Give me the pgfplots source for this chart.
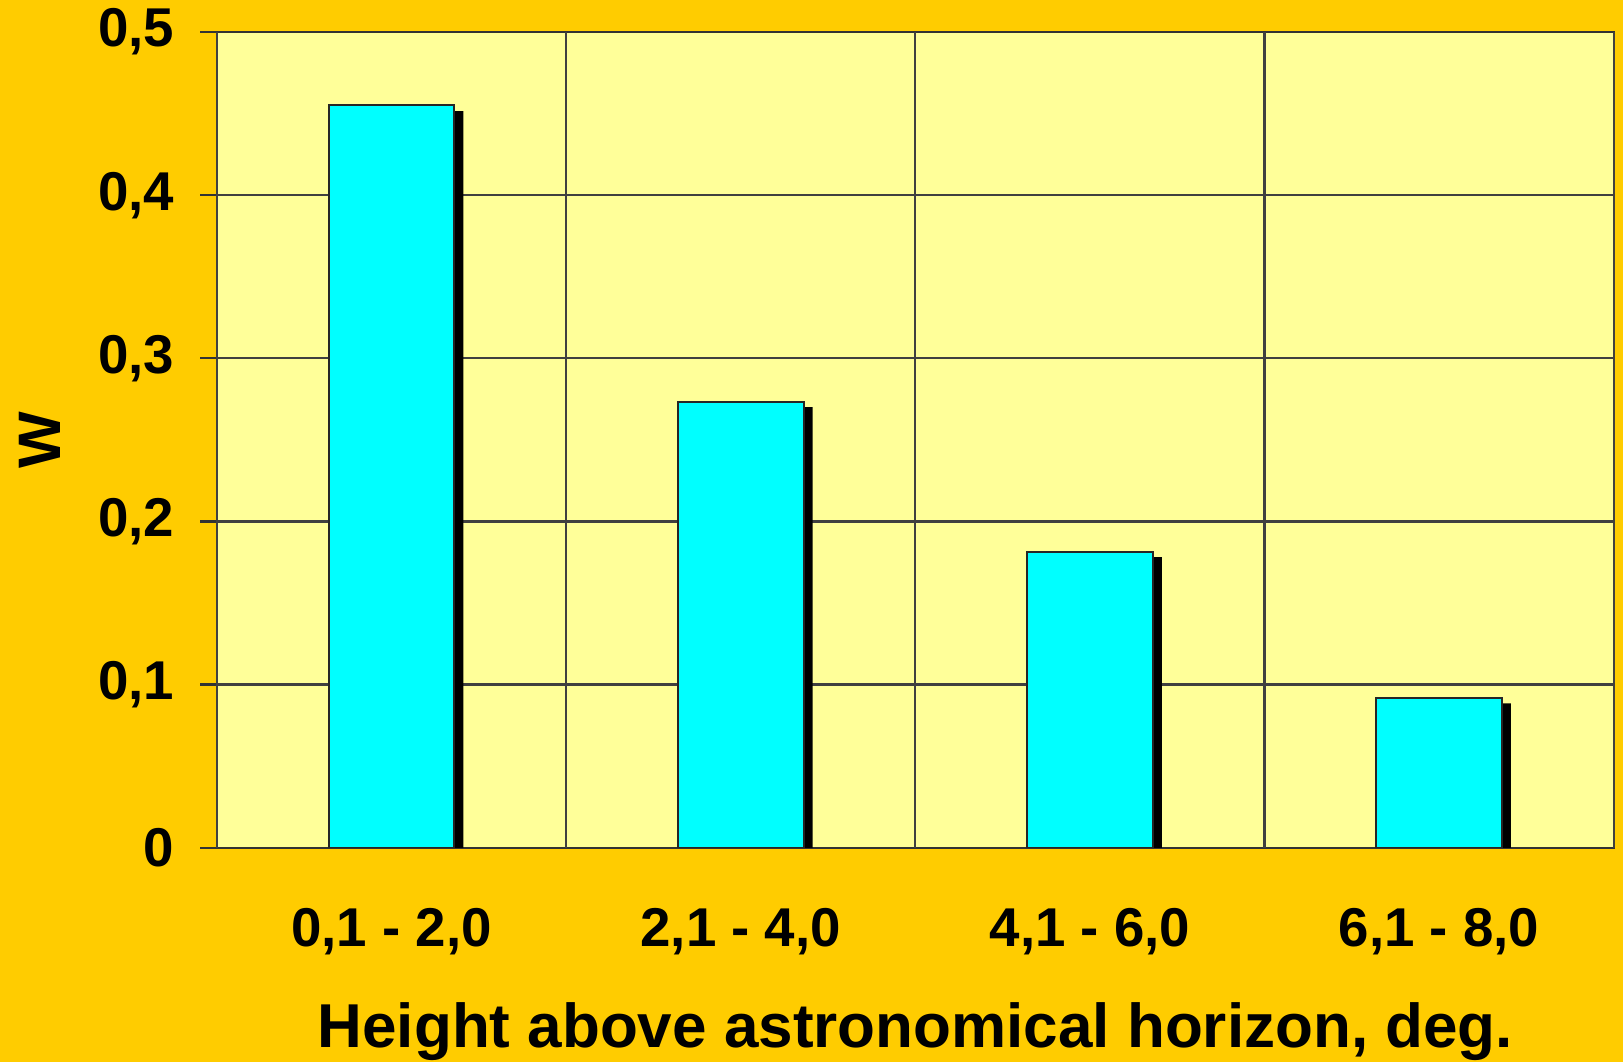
\documentclass[border=0pt]{standalone}
\usepackage{fontspec}
\setmainfont{Liberation Sans}
\usepackage{pgfplots}
\pgfplotsset{compat=1.18}
\definecolor{bgorange}{HTML}{FFCC00}
\definecolor{plotbg}{HTML}{FFFF99}
\definecolor{barcyan}{HTML}{00FFFF}
\begin{document}
\begin{tikzpicture}
\fill[bgorange] (-65.1pt,-64.2pt) rectangle (421.9pt,254.4pt);
\begin{axis}[
  at={(0,0)}, anchor=south west,
  scale only axis, width=419.1pt, height=244.8pt,
  xmin=0, xmax=4, ymin=0, ymax=0.5,
  axis background/.style={fill=plotbg},
  axis line style={black!80, line width=0.7pt},
  ytick={0,0.1,0.2,0.3,0.4,0.5},
  yticklabels={0,{0,1},{0,2},{0,3},{0,4},{0,5}},
  ymajorgrids,
  grid style={black!75, line width=0.7pt},
  ytick pos=left, xtick pos=bottom,
  tick align=outside,
  major tick length=5pt,
  tick style={black!80, line width=0.7pt},
  xtick={0.5,1.5,2.5,3.5},
  xticklabels={{0,1 - 2,0},{2,1 - 4,0},{4,1 - 6,0},{6,1 - 8,0}},
  x tick style={draw=none},
  extra x ticks={0,1,2,3,4},
  extra x tick labels={},
  extra x tick style={grid=major, tick style={draw=black!80, line width=0.7pt}, major tick length=4.3pt},
  tick label style={font=\bfseries\fontsize{16.4}{18}\selectfont},
  yticklabel style={anchor=east, xshift=-4.3pt},
  xticklabel style={anchor=base, yshift=-24.5pt},
  xlabel={Height above astronomical horizon, deg.},
  xlabel style={at={(axis description cs:0.5,0)}, anchor=base, yshift=-60pt, font=\bfseries\fontsize{18.6}{20}\selectfont},
  ylabel={W},
  ylabel style={at={(axis description cs:-0.1265,0.5)}, anchor=center, rotate=0, font=\bfseries\fontsize{18}{20}\selectfont},
]
\addplot[ybar, bar width=0.36, fill=black, draw=none, bar shift=2.7pt, yshift=-1.7pt]
  coordinates {(0.5,0.455) (1.5,0.2735) (2.5,0.1816) (3.5,0.092)};
\addplot[ybar, bar width=0.36, fill=barcyan, draw=black!85, line width=0.6pt, bar shift=0pt]
  coordinates {(0.5,0.455) (1.5,0.2735) (2.5,0.1816) (3.5,0.092)};
\end{axis}
\pgfresetboundingbox
\path[use as bounding box] (-65.1pt,-64.2pt) rectangle (421.9pt,254.4pt);
\end{tikzpicture}
\end{document}
